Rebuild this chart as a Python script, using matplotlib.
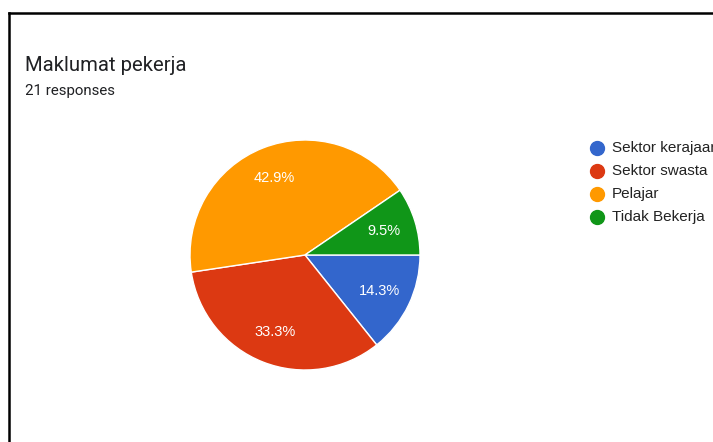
import matplotlib.pyplot as plt
from matplotlib.lines import Line2D

plt.rcParams['font.family'] = ['Roboto', 'DejaVu Sans']

# Data
labels = ["Sektor kerajaan", "Sektor swasta", "Pelajar", "Tidak Bekerja"]
counts = [3, 7, 9, 2]
colors = ["#3366cc", "#dc3912", "#ff9900", "#109618"]
title = "Maklumat pekerja"
subtitle = "21 responses"

W, H = 713, 442
fig = plt.figure(figsize=(W / 100, H / 100), dpi=100)
fig.patch.set_facecolor("white")

# pie placed by pixel centre and radius
cx, cy, r = 305, 255, 115
ax = fig.add_axes([(cx - r) / W, (H - cy - r) / H, 2 * r / W, 2 * r / H])
wedges, texts, autotexts = ax.pie(
    counts, colors=colors, startangle=0, counterclock=False,
    autopct="%1.1f%%", pctdistance=0.72,
    wedgeprops=dict(edgecolor="white", linewidth=1),
    textprops=dict(color="white", fontsize=10.5, family="Liberation Sans"),
)
ax.set_xlim(-1, 1)
ax.set_ylim(-1, 1)
ax.set_aspect("equal")
ax.axis("off")

# title block
fig.text(25 / W, 1 - 71 / H, title, fontsize=14.6, color="#202124", va="baseline")
fig.text(25 / W, 1 - 95 / H, subtitle, fontsize=10.8, color="#202124", va="baseline")

# legend
for i, (lab, col) in enumerate(zip(labels, colors)):
    y = 1 - (148 + i * 23) / H
    fig.add_artist(Line2D([597 / W], [y], marker="o", markersize=10,
                          color=col, linestyle="none"))
    fig.text(612 / W, y, lab, fontsize=11, color="#222222", va="center",
             family="Liberation Sans")

# frame lines (top and left)
fig.add_artist(Line2D([9 / W, 1], [1 - 13 / H, 1 - 13 / H], color="black", linewidth=1.8))
fig.add_artist(Line2D([9 / W, 9 / W], [0, 1 - 13 / H], color="black", linewidth=1.8))

fig.savefig("out.png", dpi=100)
